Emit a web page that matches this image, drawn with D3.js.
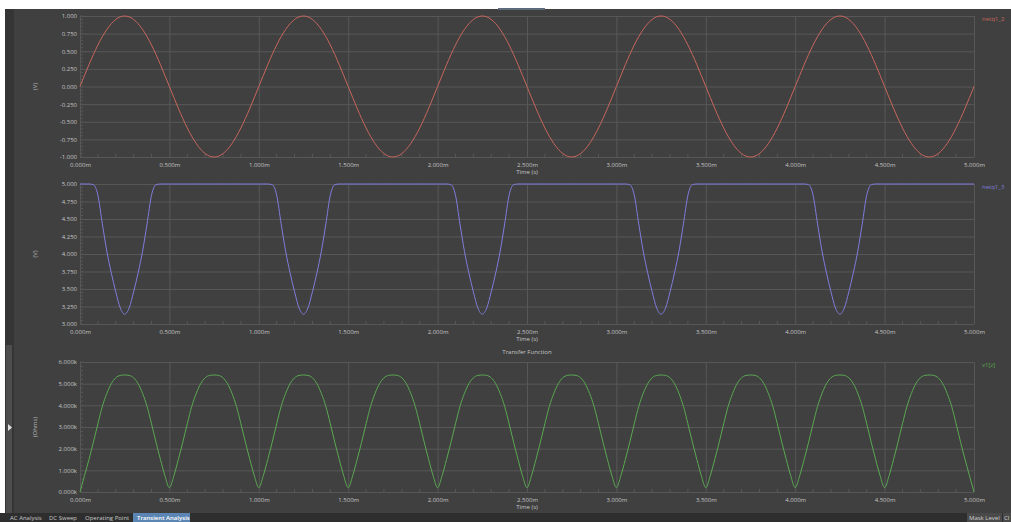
<!DOCTYPE html>
<html>
<head>
<meta charset="utf-8">
<script src="https://cdn.jsdelivr.net/npm/d3@7"></script>
<style>
  html, body { margin: 0; padding: 0; background: #ffffff; }
  svg { display: block; }
  text { font-family: "Open Sans", "Noto Sans", sans-serif; }
</style>
</head>
<body>
<script>
// x axis (ms)
const xTicks = [0, 0.5, 1, 1.5, 2, 2.5, 3, 3.5, 4, 4.5, 5];
const sampleStep = 0.025; // ms between samples

// top panel: netq1_2 (V)
const netq1_2 = [
  0, 0.156, 0.309, 0.454, 0.588, 0.707, 0.809, 0.891, 0.951, 0.988, 1, 0.988, 0.951, 0.891, 0.809, 0.707, 0.588, 0.454, 0.309, 0.156, 0, -0.156, -0.309, -0.454, -0.588, -0.707, -0.809, -0.891, -0.951, -0.988, -1, -0.988, -0.951, -0.891, -0.809, -0.707, -0.588, -0.454, -0.309, -0.156,
  0, 0.156, 0.309, 0.454, 0.588, 0.707, 0.809, 0.891, 0.951, 0.988, 1, 0.988, 0.951, 0.891, 0.809, 0.707, 0.588, 0.454, 0.309, 0.156, 0, -0.156, -0.309, -0.454, -0.588, -0.707, -0.809, -0.891, -0.951, -0.988, -1, -0.988, -0.951, -0.891, -0.809, -0.707, -0.588, -0.454, -0.309, -0.156,
  0, 0.156, 0.309, 0.454, 0.588, 0.707, 0.809, 0.891, 0.951, 0.988, 1, 0.988, 0.951, 0.891, 0.809, 0.707, 0.588, 0.454, 0.309, 0.156, 0, -0.156, -0.309, -0.454, -0.588, -0.707, -0.809, -0.891, -0.951, -0.988, -1, -0.988, -0.951, -0.891, -0.809, -0.707, -0.588, -0.454, -0.309, -0.156,
  0, 0.156, 0.309, 0.454, 0.588, 0.707, 0.809, 0.891, 0.951, 0.988, 1, 0.988, 0.951, 0.891, 0.809, 0.707, 0.588, 0.454, 0.309, 0.156, 0, -0.156, -0.309, -0.454, -0.588, -0.707, -0.809, -0.891, -0.951, -0.988, -1, -0.988, -0.951, -0.891, -0.809, -0.707, -0.588, -0.454, -0.309, -0.156,
  0, 0.156, 0.309, 0.454, 0.588, 0.707, 0.809, 0.891, 0.951, 0.988, 1, 0.988, 0.951, 0.891, 0.809, 0.707, 0.588, 0.454, 0.309, 0.156, 0, -0.156, -0.309, -0.454, -0.588, -0.707, -0.809, -0.891, -0.951, -0.988, -1, -0.988, -0.951, -0.891, -0.809, -0.707, -0.588, -0.454, -0.309, -0.156,
  0
];
const vTicksTop = [-1, -0.75, -0.5, -0.25, 0, 0.25, 0.5, 0.75, 1];

// middle panel: netq1_3 (V)
const netq1_3 = [
  5, 5, 5, 4.99, 4.84, 4.43, 4.04, 3.73, 3.46, 3.23, 3.14, 3.23, 3.46, 3.73, 4.04, 4.43, 4.84, 4.99, 5, 5, 5, 5, 5, 5, 5, 5, 5, 5, 5, 5, 5, 5, 5, 5, 5, 5, 5, 5, 5, 5,
  5, 5, 5, 4.99, 4.84, 4.43, 4.04, 3.73, 3.46, 3.23, 3.14, 3.23, 3.46, 3.73, 4.04, 4.43, 4.84, 4.99, 5, 5, 5, 5, 5, 5, 5, 5, 5, 5, 5, 5, 5, 5, 5, 5, 5, 5, 5, 5, 5, 5,
  5, 5, 5, 4.99, 4.84, 4.43, 4.04, 3.73, 3.46, 3.23, 3.14, 3.23, 3.46, 3.73, 4.04, 4.43, 4.84, 4.99, 5, 5, 5, 5, 5, 5, 5, 5, 5, 5, 5, 5, 5, 5, 5, 5, 5, 5, 5, 5, 5, 5,
  5, 5, 5, 4.99, 4.84, 4.43, 4.04, 3.73, 3.46, 3.23, 3.14, 3.23, 3.46, 3.73, 4.04, 4.43, 4.84, 4.99, 5, 5, 5, 5, 5, 5, 5, 5, 5, 5, 5, 5, 5, 5, 5, 5, 5, 5, 5, 5, 5, 5,
  5, 5, 5, 4.99, 4.84, 4.43, 4.04, 3.73, 3.46, 3.23, 3.14, 3.23, 3.46, 3.73, 4.04, 4.43, 4.84, 4.99, 5, 5, 5, 5, 5, 5, 5, 5, 5, 5, 5, 5, 5, 5, 5, 5, 5, 5, 5, 5, 5, 5,
  5
];
const vTicksMid = [3, 3.25, 3.5, 3.75, 4, 4.25, 4.5, 4.75, 5];

// bottom panel: v1[z] (kOhms)
const v1z = [
  0, 0.75, 1.5, 2.3, 3.15, 3.95, 4.55, 5.0, 5.27, 5.38, 5.4, 5.38, 5.27, 5.0, 4.55, 3.95, 3.15, 2.3, 1.5, 0.75,
  0.2, 0.75, 1.5, 2.3, 3.15, 3.95, 4.55, 5.0, 5.27, 5.38, 5.4, 5.38, 5.27, 5.0, 4.55, 3.95, 3.15, 2.3, 1.5, 0.75,
  0.2, 0.75, 1.5, 2.3, 3.15, 3.95, 4.55, 5.0, 5.27, 5.38, 5.4, 5.38, 5.27, 5.0, 4.55, 3.95, 3.15, 2.3, 1.5, 0.75,
  0.2, 0.75, 1.5, 2.3, 3.15, 3.95, 4.55, 5.0, 5.27, 5.38, 5.4, 5.38, 5.27, 5.0, 4.55, 3.95, 3.15, 2.3, 1.5, 0.75,
  0.2, 0.75, 1.5, 2.3, 3.15, 3.95, 4.55, 5.0, 5.27, 5.38, 5.4, 5.38, 5.27, 5.0, 4.55, 3.95, 3.15, 2.3, 1.5, 0.75,
  0.2, 0.75, 1.5, 2.3, 3.15, 3.95, 4.55, 5.0, 5.27, 5.38, 5.4, 5.38, 5.27, 5.0, 4.55, 3.95, 3.15, 2.3, 1.5, 0.75,
  0.2, 0.75, 1.5, 2.3, 3.15, 3.95, 4.55, 5.0, 5.27, 5.38, 5.4, 5.38, 5.27, 5.0, 4.55, 3.95, 3.15, 2.3, 1.5, 0.75,
  0.2, 0.75, 1.5, 2.3, 3.15, 3.95, 4.55, 5.0, 5.27, 5.38, 5.4, 5.38, 5.27, 5.0, 4.55, 3.95, 3.15, 2.3, 1.5, 0.75,
  0.2, 0.75, 1.5, 2.3, 3.15, 3.95, 4.55, 5.0, 5.27, 5.38, 5.4, 5.38, 5.27, 5.0, 4.55, 3.95, 3.15, 2.3, 1.5, 0.75,
  0.2, 0.75, 1.5, 2.3, 3.15, 3.95, 4.55, 5.0, 5.27, 5.38, 5.4, 5.38, 5.27, 5.0, 4.55, 3.95, 3.15, 2.3, 1.5, 0.75,
  0
];
const zTicks = [0, 1, 2, 3, 4, 5, 6];

const tabsLeft = ["AC Analysis", "DC Sweep", "Operating Point", "Transient Analysis"];
const tabsRight = ["Mask Level", "Cl"];

const width = 1011, height = 522;
const plotLeft = 80, plotRight = 974;
const bg = "#404040", gridColor = "#575757", textColor = "#c4c4c4";

const panels = [
  {top: 16, bottom: 157, values: netq1_2, ticks: vTicksTop, unit: "(V)", name: "netq1_2", color: "#c8665c", fmt: d => d.toFixed(3)},
  {top: 184, bottom: 324, values: netq1_3, ticks: vTicksMid, unit: "(V)", name: "netq1_3", color: "#7f7ddc", fmt: d => d.toFixed(3)},
  {top: 362, bottom: 492, values: v1z, ticks: zTicks, unit: "(Ohms)", name: "v1[z]", color: "#5aa852", fmt: d => d.toFixed(3) + "k", title: "Transfer Function"}
];

const svg = d3.select("body").append("svg")
    .attr("width", width)
    .attr("height", height);

// window chrome
svg.append("rect").attr("width", width).attr("height", height).attr("fill", bg);
svg.append("rect").attr("width", width).attr("height", 9).attr("fill", "#ffffff");
svg.append("rect").attr("x", 498).attr("y", 8).attr("width", 47).attr("height", 2).attr("fill", "#5d6b7a");
svg.append("rect").attr("x", 0).attr("y", 9).attr("width", 5).attr("height", height - 9).attr("fill", "#ffffff");
svg.append("rect").attr("x", 5).attr("y", 9).attr("width", 9).attr("height", 505).attr("fill", "#353535");
svg.append("rect").attr("x", 6).attr("y", 345).attr("width", 6).attr("height", 169).attr("fill", "#4d4d4d");
svg.append("path").attr("d", "M8,424 L12,427.5 L8,431 Z").attr("fill", "#e0e0e0");

const x = d3.scaleLinear().domain([0, 5]).range([plotLeft, plotRight]);
const xMinor = d3.range(0, 5.0001, 0.1).filter(v => Math.abs(v * 2 - Math.round(v * 2)) > 1e-6);

panels.forEach(p => {
  const y = d3.scaleLinear().domain(d3.extent(p.ticks)).range([p.bottom, p.top]);
  const g = svg.append("g");
  const h = p.bottom - p.top, w = plotRight - plotLeft;

  // horizontal grid + y labels
  const ya = g.append("g")
      .attr("transform", `translate(${plotLeft},0)`)
      .call(d3.axisLeft(y).tickValues(p.ticks).tickSize(-w).tickPadding(3).tickFormat(p.fmt));
  ya.select(".domain").remove();
  ya.selectAll("line").attr("stroke", gridColor);
  ya.selectAll("text").attr("fill", textColor).style("font-size", "6px");

  // vertical grid + x labels
  const xa = g.append("g")
      .attr("transform", `translate(0,${p.bottom})`)
      .call(d3.axisBottom(x).tickValues(xTicks).tickSize(-h).tickPadding(6).tickFormat(d => d.toFixed(3) + "m"));
  xa.select(".domain").remove();
  xa.selectAll("line").attr("stroke", gridColor);
  xa.selectAll("text").attr("fill", textColor).style("font-size", "6px");

  // minor ticks
  g.append("g").selectAll("line").data(xMinor).join("line")
      .attr("x1", d => x(d)).attr("x2", d => x(d))
      .attr("y1", p.bottom).attr("y2", p.bottom - 3)
      .attr("stroke", gridColor);
  const step = (p.ticks[1] - p.ticks[0]) / 5;
  const yMinor = d3.range(p.ticks[0], p.ticks[p.ticks.length - 1] + step / 2, step);
  g.append("g").selectAll("line").data(yMinor).join("line")
      .attr("x1", plotLeft).attr("x2", plotLeft + 3)
      .attr("y1", d => y(d)).attr("y2", d => y(d))
      .attr("stroke", gridColor);

  // axis titles
  g.append("text")
      .attr("x", (plotLeft + plotRight) / 2).attr("y", p.bottom + 16.5)
      .attr("text-anchor", "middle").attr("fill", textColor)
      .style("font-size", "6px").text("Time (s)");
  g.append("text")
      .attr("transform", `translate(37,${(p.top + p.bottom) / 2}) rotate(-90)`)
      .attr("text-anchor", "middle").attr("fill", "#b4b4b4")
      .style("font-size", "6px").text(p.unit);
  if (p.title) {
    g.append("text")
        .attr("x", (plotLeft + plotRight) / 2).attr("y", p.top - 8)
        .attr("text-anchor", "middle").attr("fill", textColor)
        .style("font-size", "6px").text(p.title);
  }

  // trace
  const line = d3.line()
      .x((d, i) => x(i * sampleStep))
      .y(d => y(d))
      .curve(d3.curveMonotoneX);
  g.append("path")
      .datum(p.values)
      .attr("d", line)
      .attr("fill", "none")
      .attr("stroke", p.color)
      .attr("stroke-width", 1);

  // legend
  g.append("text")
      .attr("x", 982).attr("y", p.top + 5)
      .attr("fill", p.color)
      .style("font-size", "6px").text(p.name);
});

// bottom tab bar
svg.append("rect").attr("x", 0).attr("y", 513).attr("width", width).attr("height", 9).attr("fill", "#2e2e2e");
const tabX = [10, 49, 85, 137];
tabsLeft.forEach((t, i) => {
  const active = i === tabsLeft.length - 1;
  if (active) svg.append("rect").attr("x", 133).attr("y", 513).attr("width", 57).attr("height", 9).attr("fill", "#5b86b3");
  svg.append("text").attr("x", tabX[i]).attr("y", 520)
      .attr("fill", active ? "#ffffff" : "#c8c8c8")
      .style("font-size", "6px").style("font-weight", active ? "600" : "400")
      .text(t);
});
svg.append("rect").attr("x", 967).attr("y", 513).attr("width", 35).attr("height", 9).attr("fill", "#4a4a4a");
svg.append("rect").attr("x", 1003).attr("y", 513).attr("width", 8).attr("height", 9).attr("fill", "#4a4a4a");
svg.append("text").attr("x", 969).attr("y", 520).attr("fill", "#d0d0d0").style("font-size", "6px").text(tabsRight[0]);
svg.append("text").attr("x", 1004).attr("y", 520).attr("fill", "#d0d0d0").style("font-size", "6px").text(tabsRight[1]);
</script>
</body>
</html>
